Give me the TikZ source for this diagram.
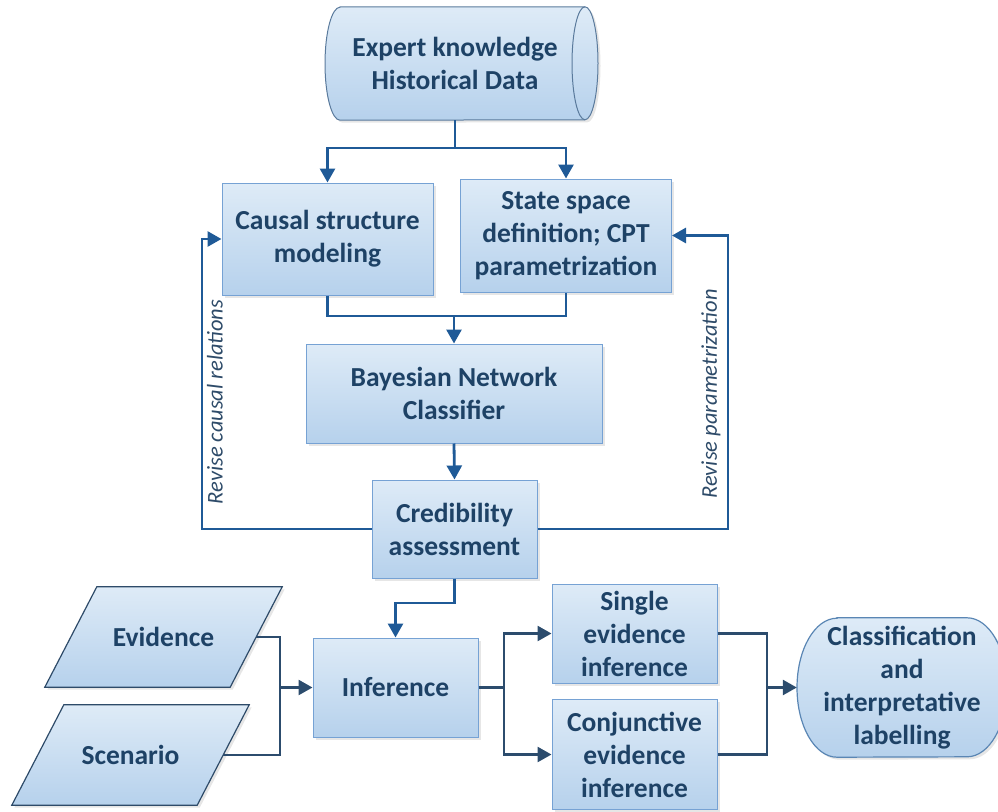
\documentclass[tikz,border=0pt]{standalone}
\usepackage{fontspec}
\setmainfont{Carlito}
\usetikzlibrary{arrows.meta,shadows,backgrounds}
\definecolor{fillTop}{HTML}{DEEBF7}
\definecolor{fillBot}{HTML}{B6D1EC}
\definecolor{boxLine}{HTML}{76A2D4}
\definecolor{txt}{HTML}{1E4266}
\definecolor{arrA}{HTML}{1F5A97}
\definecolor{arrB}{HTML}{2C4C6D}
\definecolor{paraLine}{HTML}{2E4B69}
\definecolor{cylLine}{HTML}{5A7A9C}
\definecolor{clsLine}{HTML}{5A86B4}
\begin{document}
\begin{tikzpicture}[x=1pt,y=-1pt,
  shfill/.style={top color=fillTop, bottom color=fillBot,
    drop shadow={shadow xshift=2.5pt, shadow yshift=-2.5pt, opacity=0.22, fill=black!45}},
  boxtext/.style={text=txt, font=\fontsize{27.5}{33}\selectfont\bfseries, align=center, inner sep=1pt},
  box/.style={boxtext, shfill, draw=boxLine, line width=1pt},
  lab/.style={text=paraLine, font=\fontsize{22.5}{26}\selectfont\itshape, rotate=90},
  lineA/.style={draw=arrA, line width=2.8pt},
  arrA/.style={lineA, -{Triangle[length=14pt,width=15pt]}},
  lineB/.style={draw=arrB, line width=2.6pt},
  arrB/.style={lineB, -{Triangle[length=14pt,width=15pt]}}
]
\useasboundingbox (0,0) rectangle (998,811);

% nodes
\node[boxtext, minimum width=273pt, minimum height=113pt] (db) at (455,63.5) {Expert knowledge\\Historical Data};
\node[box, minimum width=211pt, minimum height=112pt] (causal) at (327.5,239) {Causal structure\\modeling};
\node[box, minimum width=211pt, minimum height=113pt] (state) at (566,235.5) {State space\\definition; CPT\\parametrization};
\node[box, minimum width=296pt, minimum height=99pt] (bn) at (454,393.5) {Bayesian Network\\Classifier};
\node[box, minimum width=165pt, minimum height=98pt] (cred) at (454.5,529) {Credibility\\assessment};
\node[boxtext, minimum width=185pt, minimum height=100pt] (evid) at (163.5,637) {Evidence};
\node[boxtext, minimum width=185pt, minimum height=100pt] (scen) at (130.5,755) {Scenario};
\node[box, minimum width=165pt, minimum height=99pt] (infer) at (395.5,687.5) {Inference};
\node[box, minimum width=165pt, minimum height=99pt] (single) at (634.5,633.5) {Single\\evidence\\inference};
\node[box, minimum width=165pt, minimum height=110pt] (conj) at (634.5,754.5) {Conjunctive\\evidence\\inference};
\node[boxtext, minimum width=210pt, minimum height=139pt] (cls) at (902,687.5) {Classification\\and\\interpretative\\labelling};

\node[lab] (labL) at (215,402) {Revise causal relations};
\node[lab] (labR) at (711,394) {Revise parametrization};

% background shapes
\begin{scope}[on background layer]
  % cylinder
  \path[shfill, draw=cylLine, line width=1pt]
    ([xshift=-115pt]db.north) -- ([xshift=130pt]db.north)
    arc[start angle=-90, end angle=90, x radius=13, y radius=56.5]
    -- ([xshift=-115pt]db.south)
    arc[start angle=90, end angle=270, x radius=15, y radius=56.5] -- cycle;
  \draw[cylLine, line width=1pt] ([xshift=130pt]db.north)
    arc[start angle=-90, end angle=-270, x radius=13, y radius=56.5];
  % parallelograms
  \path[shfill, draw=paraLine, line width=1.2pt]
    ([xshift=26pt]evid.north west) -- ([xshift=26pt]evid.north east)
    -- ([xshift=-26pt]evid.south east) -- ([xshift=-26pt]evid.south west) -- cycle;
  \path[shfill, draw=paraLine, line width=1.2pt]
    ([xshift=26pt]scen.north west) -- ([xshift=26pt]scen.north east)
    -- ([xshift=-26pt]scen.south east) -- ([xshift=-26pt]scen.south west) -- cycle;
  % rounded terminal
  \path[shfill, draw=clsLine, line width=1.2pt]
    ([xshift=-65pt]cls.north) -- ([xshift=65pt]cls.north)
    arc[start angle=-90, end angle=90, x radius=40, y radius=69.5]
    -- ([xshift=-65pt]cls.south)
    arc[start angle=90, end angle=270, x radius=40, y radius=69.5] -- cycle;
\end{scope}

% connectors (upper part)
\coordinate (s1) at (455,148);
\draw[lineA] (db.south) -- (s1);
\draw[arrA] (s1) -| (causal.north);
\draw[arrA] (s1) -| (state.north);
\coordinate (m1) at (454,316);
\draw[lineA] (causal.south) |- (m1) -| (state.south);
\draw[arrA] (m1) -- (bn.north);
\draw[arrA] (bn.south) -- (cred.north);
\coordinate (lc) at (202,529);
\coordinate (rc) at (728,529);
\draw[arrA] (cred.west) -- (lc) |- (causal.west);
\draw[arrA] (cred.east) -- (rc) |- (state.east);
\coordinate (m2) at (454.5,603);
\draw[arrA] (cred.south) -- (m2) -| (infer.north);

% connectors (lower part)
\coordinate (b1) at (280,687.5);
\draw[lineB] (evid.east) -| (b1) |- (scen.east);
\draw[arrB] (b1) -- (infer.west);
\coordinate (b2) at (504,687.5);
\draw[lineB] (infer.east) -- (b2);
\draw[arrB] (b2) |- (single.west);
\draw[arrB] (b2) |- (conj.west);
\coordinate (b3) at (767,687.5);
\draw[lineB] (single.east) -| (b3) |- (conj.east);
\draw[arrB] (b3) -- (cls.west);
\end{tikzpicture}
\end{document}
